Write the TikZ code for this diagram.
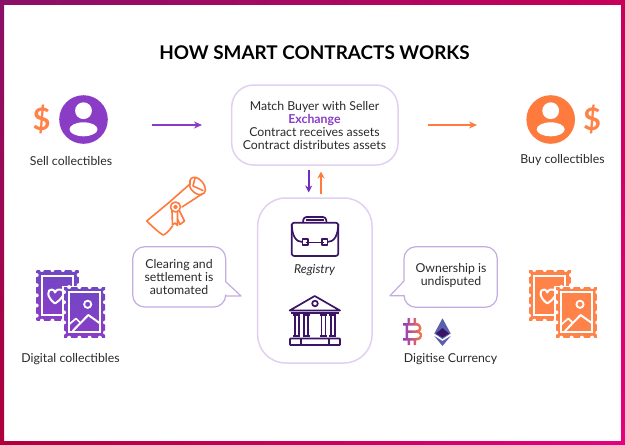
\documentclass[tikz,border=0pt]{standalone}
\usepackage{fontspec}
\setmainfont{Lato}
\usetikzlibrary{arrows.meta}
\definecolor{txt}{HTML}{2A2A2A}
\definecolor{lilac}{HTML}{E2D0F2}
\definecolor{lilacd}{HTML}{C4ACDF}
\definecolor{purp}{HTML}{8A3CC6}
\definecolor{purpd}{HTML}{6E2FC0}
\definecolor{stamptop}{HTML}{7048C4}
\definecolor{oran}{HTML}{FF7A3D}
\definecolor{oranl}{HTML}{FF8248}
\definecolor{navy}{HTML}{3A1566}
\definecolor{ethblue}{HTML}{5A5FB0}
\definecolor{frameTL}{HTML}{8A1068}
\definecolor{frameTR}{HTML}{C8005A}
\definecolor{frameBL}{HTML}{B0003C}
\definecolor{frameBR}{HTML}{E6007E}
\tikzset{
  lbl/.style={text=txt,font=\fontsize{12.3}{13}\selectfont,inner sep=0pt,align=center},
  multi/.style={text=txt,font=\fontsize{12.3}{13.2}\selectfont,inner sep=0pt,align=center},
  roundbox/.style={draw=lilac,line width=1.5pt,fill=white},
  bubble/.style={draw=lilacd,line width=1.2pt,fill=white,line join=round},
  purpstamp/.style={bottom color=purp,top color=stamptop},
  oranstamp/.style={fill=oranl},
  dollar/.style={text=oranl,font=\fontsize{31}{31}\selectfont\bfseries,inner sep=0pt},
  flowarrow/.style={line width=1.7pt,-{Stealth[length=8pt,width=7pt]}},
  navyline/.style={draw=navy,line width=1.7pt,line join=round},
  scroll/.style={draw=oran,line width=1.6pt,line join=round,line cap=round}
}
\newcommand{\onestamp}[7]{%
  \path[#5] (#1,#2) rectangle (#3,#4);
  \foreach \i in {1,...,#6}{
    \pgfmathsetmacro{\nx}{#1+(\i-0.5)*(#3-#1)/#6}
    \fill[white] (\nx,#2) circle[radius=2pt];
    \fill[white] (\nx,#4) circle[radius=2pt];
  }
  \foreach \i in {1,...,#7}{
    \pgfmathsetmacro{\ny}{#2+(\i-0.5)*(#4-#2)/#7}
    \fill[white] (#1,\ny) circle[radius=2pt];
    \fill[white] (#3,\ny) circle[radius=2pt];
  }
}
\newcommand{\stamppair}[2]{%
  \begin{scope}[shift={(#1,0)}]
    \onestamp{36.7}{270}{78.7}{320.7}{#2}{4}{5}
    \draw[white,line width=2pt] (41.7,276) rectangle (72.7,314.5);
    \draw[white,line width=2pt,line join=round] (55,303.5)
      .. controls (46,297) and (47,289) .. (52,289.5)
      .. controls (54,289.8) and (55,291.5) .. (55,292.5)
      .. controls (56,289.5) and (60,288) .. (63,291)
      .. controls (65,294) and (62,299) .. (55,303.5);
    \fill[white] (62,285.5) rectangle (106.5,339.5);
    \onestamp{64}{287}{105}{337.7}{#2}{4}{5}
    \draw[white,line width=2pt] (68.5,292.3) rectangle (100,331.7);
    \draw[white,line width=1.8pt] (87.7,304.3) circle[radius=3.6pt];
    \draw[white,line width=2pt,line join=round] (72.7,331)--(88.3,315)--(99.5,323);
    \draw[white,line width=1.7pt,line join=round] (69,324.5)--(76,318.5)--(81,323.5);
  \end{scope}
}
\newcommand{\personicon}[3]{%
  \fill[#3] (#1,#2) circle[radius=24.3pt];
  \fill[white] (#1,#2-8.8) circle[radius=8.4pt];
  \fill[white] (#1,#2+9.8) ellipse[x radius=14pt,y radius=7pt];
}
\begin{document}
\begin{tikzpicture}[x=1pt,y=-1pt]
\useasboundingbox (0,0) rectangle (625,445);
\fill[white] (0,0) rectangle (625,445);
% frame
\shade[left color=frameTL,right color=frameTR] (0,0) rectangle (625,4);
\shade[left color=frameBL,right color=frameBR] (0,441) rectangle (625,445);
\shade[top color=frameTL,bottom color=frameBL] (0,0) rectangle (4,445);
\shade[top color=frameTR,bottom color=frameBR] (621,0) rectangle (625,445);
% title
\node[inner sep=0pt,text=black,font=\fontsize{18.9}{19}\selectfont\bfseries] (title) at (314.5,53) {HOW SMART CONTRACTS WORKS};
% sell
\node[dollar] (dollarL) at (41.5,119) {\$};
\personicon{83.5}{119.5}{purp}
\node[lbl] (sell) at (71,161) {Sell collectibles};
\coordinate (sa) at (152,125);
\coordinate (sb) at (202,125);
\draw[flowarrow,purp] (sa) -- (sb);
% buy
\personicon{550.7}{119.5}{oran}
\node[dollar] (dollarR) at (592,119) {\$};
\node[lbl] (buy) at (562.5,160) {Buy collectibles};
\coordinate (ba) at (428,125);
\coordinate (bb) at (477,125);
\draw[flowarrow,oran] (ba) -- (bb);
% exchange box
\draw[roundbox,rounded corners=22pt] (231.7,85) rectangle (398,165);
\node[multi] (exch) at (314.5,125.5) {Match Buyer with Seller\\[0pt]{\bfseries\color{purp}Exchange}\\Contract receives assets\\Contract distributes assets};
\coordinate (da) at (308.7,170);
\coordinate (db) at (308.7,192.5);
\coordinate (ua) at (321,194);
\coordinate (ub) at (321,171.5);
\draw[line width=1.7pt,purpd,-{Stealth[length=7pt,width=7pt]}] (da) -- (db);
\draw[line width=1.7pt,oran,-{Stealth[length=7pt,width=7pt]}] (ua) -- (ub);
% registry box
\draw[roundbox,rounded corners=28pt] (257.7,198) rectangle (372,363);
\node[lbl,font=\fontsize{12.3}{13}\selectfont\itshape] (reg) at (314.5,270) {Registry};
% briefcase
\draw[navyline,rounded corners=2.5pt] (291.7,222.7) -- (338.3,222.7) -- (338.3,256) -- (291.7,256) -- cycle;
\draw[navyline,rounded corners=3pt] (303,222.7) -- (303.5,217) -- (326,217) -- (326.5,222.7);
\draw[navyline] (306,219.8) -- (323.5,219.8);
\draw[navyline] (291.7,224) .. controls (292,236) and (296,242) .. (302.3,242);
\draw[navyline] (338.3,224) .. controls (338,236) and (334,242) .. (327.3,242);
\draw[navyline] (305.5,242.4) -- (324,242.4);
\draw[navyline] (302.5,239) rectangle (308,245);
\draw[navyline] (322,239) rectangle (327.5,245);
% bank
\draw[navyline] (314.7,296) -- (340,310.5) -- (289.7,310.5) -- cycle;
\draw[navyline] (315,303.5) circle[radius=2.8pt];
\draw[navyline] (291,313) -- (339,313);
\foreach \cx in {296.7,306,323.5,332.7}{
  \draw[navyline] (\cx-2,315) -- (\cx-2,335.5);
  \draw[navyline] (\cx+2,315) -- (\cx+2,335.5);
  \draw[navyline] (\cx-3.5,315) -- (\cx+3.5,315);
  \draw[navyline] (\cx-3.5,336) -- (\cx+3.5,336);
}
\draw[navyline,rounded corners=0.5pt] (290,338.5) rectangle (340,345);
\draw[navyline] (301,338.5) -- (301,345);
\draw[navyline] (329,338.5) -- (329,345);
% left bubble
\draw[bubble] (225.7,281.7) [rounded corners=12pt] -- (225.7,246.7) -- (132.7,246.7) -- (132.7,307) -- (225.7,307) [sharp corners] -- (225.7,296) -- (241,296) -- cycle;
\node[multi] (bubL) at (179,277) {Clearing and\\settlement is\\automated};
% right bubble
\draw[bubble] (404,281) [rounded corners=12pt] -- (404,246.7) -- (497.3,246.7) -- (497.3,307.3) -- (404,307.3) [sharp corners] -- (404,295.7) -- (390,295.7) -- cycle;
\node[multi] (bubR) at (451,275.7) {Ownership is\\undisputed};
% scroll
\draw[scroll] (169,202.5) -- (146.7,221) .. controls (152,226) and (158,232) .. (163,235) .. controls (165,235) and (170,230) .. (172.5,226);
\draw[scroll] (169,202.5) -- (190,184);
\draw[scroll] (182,207) -- (202,194);
\draw[scroll] (190,184) .. controls (189,179) and (192,176.5) .. (196,177.5) .. controls (201,179) and (205,184) .. (205.5,190) .. controls (205,195) and (199,196) .. (195,193) .. controls (191,190) and (189,187) .. (190,184);
\draw[scroll] (195,178) -- (193,186) -- (203,190.5);
\draw[scroll] (175.5,207) circle[radius=5pt];
\draw[scroll] (175.5,207) circle[radius=1.6pt];
\draw[scroll] (172,211.5) -- (172.5,225) -- (175,223) -- (177.5,225.5) -- (177.5,212.5);
\draw[scroll] (179.5,211) -- (184.5,221) -- (180,224.5) -- (177.5,219);
% stamps
\stamppair{0}{purpstamp}
\node[lbl] (digC) at (70.5,359) {Digital collectibles};
\stamppair{492.3}{oranstamp}
% bitcoin
\shade[left color=purp,right color=oran,even odd rule]
  (403,323) -- (416,323) .. controls (420,323) and (421.5,326) .. (421.5,328)
  .. controls (421.5,330) and (420.5,331) .. (419.5,331.5)
  .. controls (421,332) and (422.5,333.5) .. (422.5,335.5)
  .. controls (422.5,338) and (420,340.5) .. (416,340.5) -- (416,345) -- (413.5,345) -- (413.5,340.5) -- (410,340.5) -- (410,345) -- (407.5,345) -- (407.5,340.5) -- (403,340.5) -- (403,338) -- (405.5,338) -- (405.5,325.5) -- (403,325.5) -- cycle
  (408,325.5) -- (408,330.3) -- (416,330.3) .. controls (418,330.3) and (419,329.3) .. (419,328) .. controls (419,326.5) and (418,325.5) .. (416,325.5) -- cycle
  (408,332.8) -- (408,338) -- (416,338) .. controls (418.5,338) and (420,337) .. (420,335.4) .. controls (420,333.8) and (418.5,332.8) .. (416,332.8) -- cycle;
\shade[left color=purp,right color=oran] (407.5,318) rectangle (410,323);
\shade[left color=purp!60!oran,right color=oran] (413.5,318) rectangle (416,323);
% ethereum
\fill[ethblue] (442.5,318.3) -- (450.7,333.5) -- (442.5,339) -- (434.3,333.5) -- cycle;
\fill[ethblue] (434.3,336) -- (442.5,341) -- (450.7,336) -- (442.5,346) -- cycle;
\fill[navy] (442.5,328) -- (449,333.5) -- (442.5,337.5) -- (436,333.5) -- cycle;
\node[lbl] (digiC) at (450.5,359) {Digitise Currency};
\end{tikzpicture}
\end{document}
